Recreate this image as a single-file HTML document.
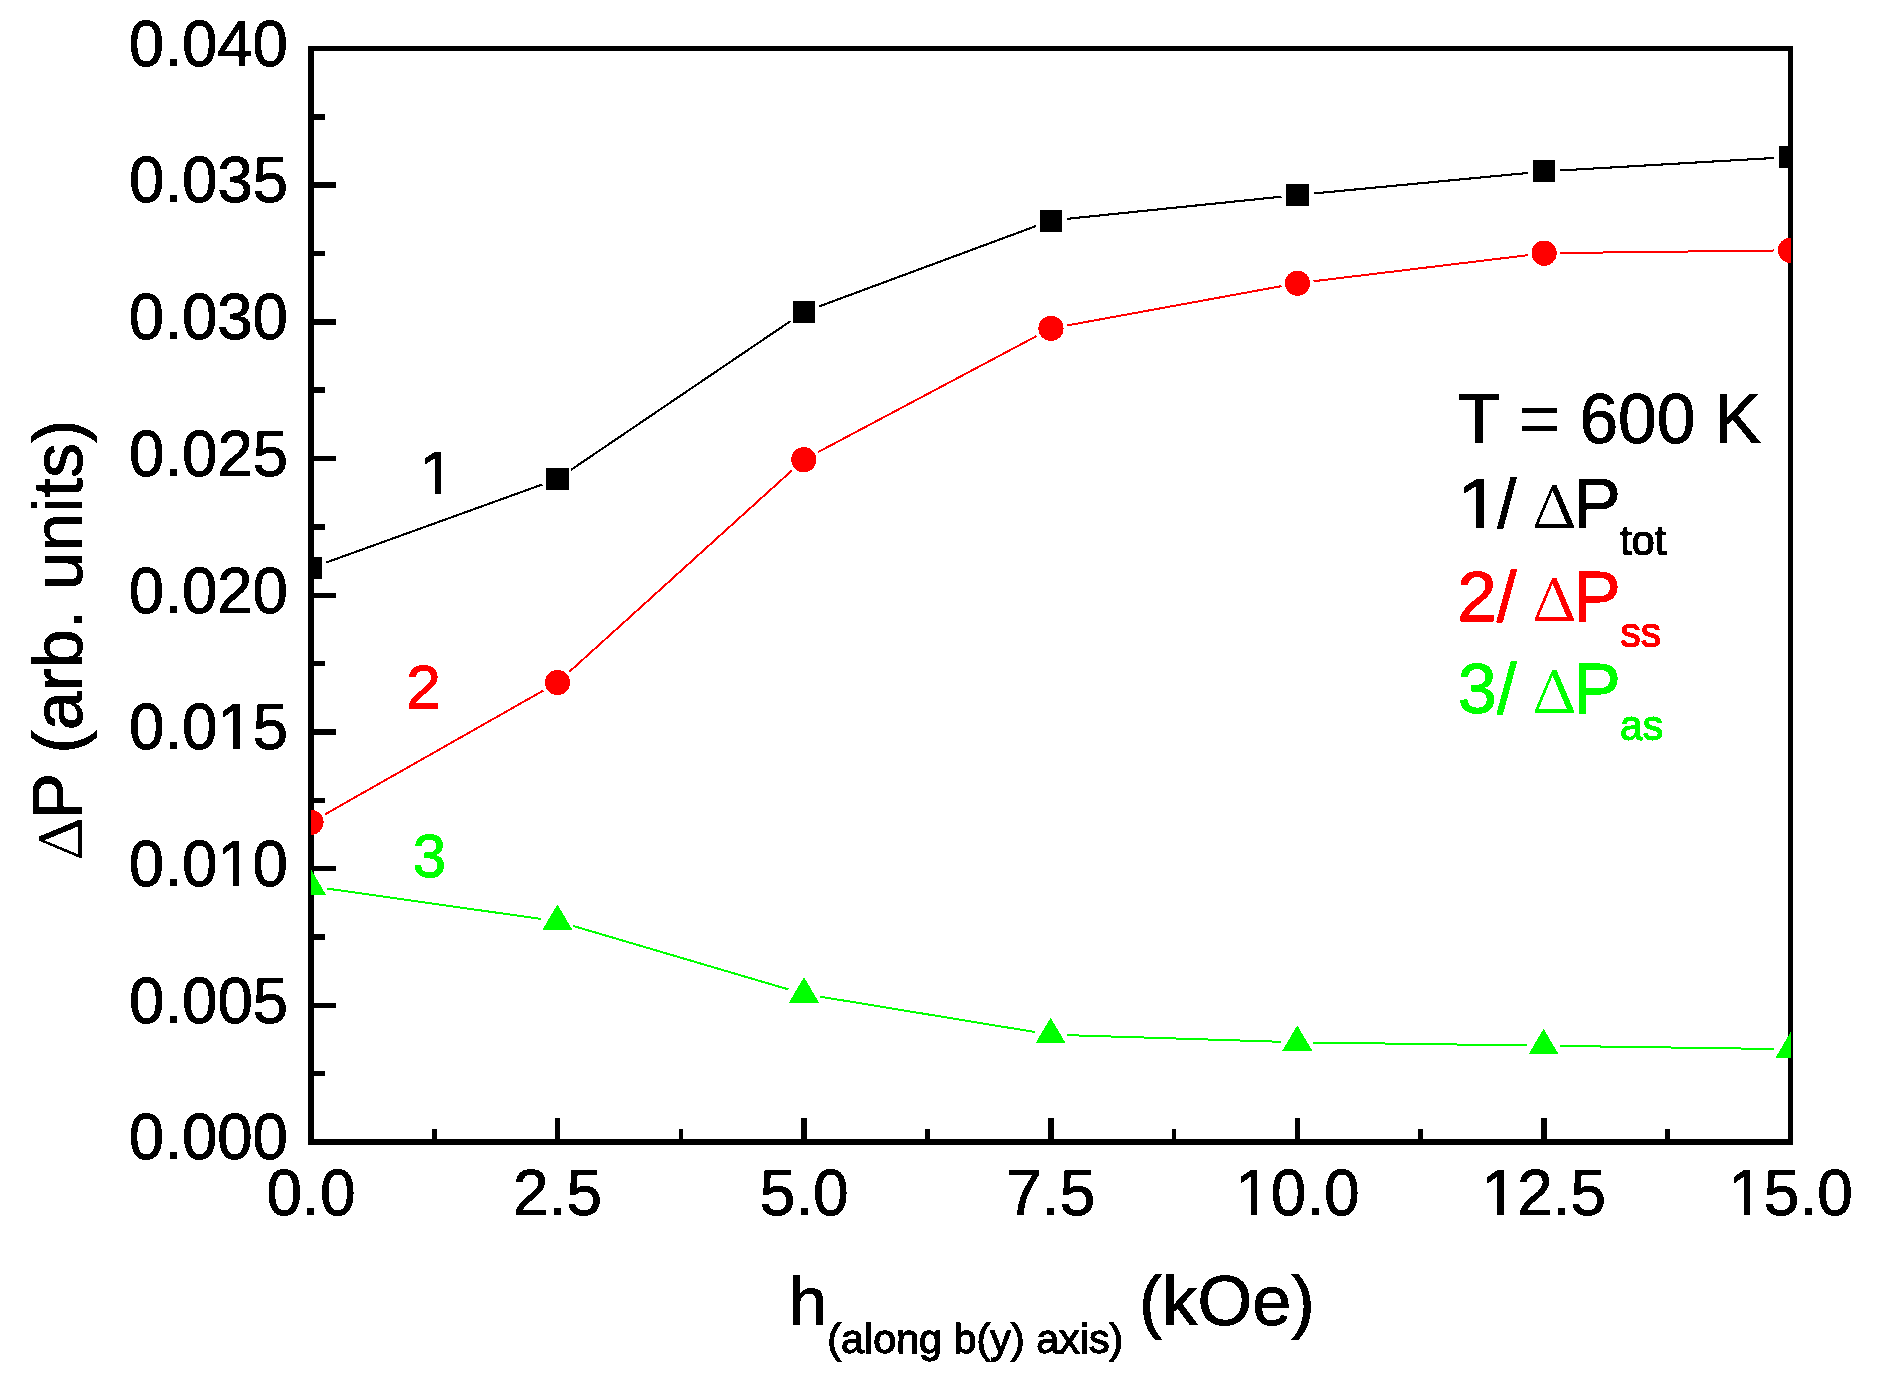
<!DOCTYPE html>
<html lang="en"><head><meta charset="utf-8"><title>ΔP vs h</title>
<style>
html,body{margin:0;padding:0;background:#fff;}
body{width:1878px;height:1391px;overflow:hidden;}
svg{display:block;}
svg text{font-family:"Liberation Sans",Arial,sans-serif;font-size:100px;font-kerning:none;white-space:pre;}
</style></head><body>
<svg width="1878" height="1391" viewBox="0 0 1878 1391" shape-rendering="crispEdges">
<defs><clipPath id="c0"><path clip-rule="evenodd" d="M-50,-150h350.2v250h-350.2zM144.01,-8.6H163.768v12H144.01zM173.203,-8.6h20v12h-20z"/></clipPath><clipPath id="c1"><path clip-rule="evenodd" d="M-50,-150h350.2v250h-350.2zM144.01,-8.6H163.469v12H144.01zM174.477,-8.6h20v12h-20z"/></clipPath><clipPath id="c2"><path clip-rule="evenodd" d="M-50,-150h294.6v250h-294.6zM5.00,-8.6H24.922v12H5.00zM34.297,-8.6h20v12h-20z"/></clipPath><clipPath id="c3"><path clip-rule="evenodd" d="M-50,-150h294.6v250h-294.6zM5.00,-8.6H24.000v12H5.00zM34.937,-8.6h20v12h-20z"/></clipPath><clipPath id="c4"><path clip-rule="evenodd" d="M-50,-150h294.6v250h-294.6zM5.00,-8.6H24.656v12H5.00zM34.031,-8.6h20v12h-20z"/></clipPath><clipPath id="c5"><path clip-rule="evenodd" d="M-50,-150h155.6v250h-155.6zM5.00,-8.6H24.709v12H5.00zM34.140,-8.6h20v12h-20z"/></clipPath><clipPath id="c6"><path clip-rule="evenodd" d="M-50,-150h155.6v250h-155.6zM5.00,-8.6H23.948v12H5.00zM34.371,-8.6h20v12h-20z"/></clipPath><filter id="th" filterUnits="userSpaceOnUse" x="0" y="0" width="1878" height="1391" color-interpolation-filters="sRGB"><feComponentTransfer><feFuncA type="discrete" tableValues="0 1"/></feComponentTransfer></filter><clipPath id="clip"><rect x="311" y="40" width="1480" height="1110"/></clipPath></defs>
<rect width="1878" height="1391" fill="#fff"/>
<rect x="311.0" y="48.5" width="1479.5" height="1093.5" fill="none" stroke="#000" stroke-width="5.5"/>
<line x1="311.0" y1="1005.31" x2="335.5" y2="1005.31" stroke="#000" stroke-width="5.5"/>
<line x1="311.0" y1="868.62" x2="335.5" y2="868.62" stroke="#000" stroke-width="5.5"/>
<line x1="311.0" y1="731.94" x2="335.5" y2="731.94" stroke="#000" stroke-width="5.5"/>
<line x1="311.0" y1="595.25" x2="335.5" y2="595.25" stroke="#000" stroke-width="5.5"/>
<line x1="311.0" y1="458.56" x2="335.5" y2="458.56" stroke="#000" stroke-width="5.5"/>
<line x1="311.0" y1="321.88" x2="335.5" y2="321.88" stroke="#000" stroke-width="5.5"/>
<line x1="311.0" y1="185.19" x2="335.5" y2="185.19" stroke="#000" stroke-width="5.5"/>
<line x1="311.0" y1="1073.66" x2="325" y2="1073.66" stroke="#000" stroke-width="5.5"/>
<line x1="311.0" y1="936.97" x2="325" y2="936.97" stroke="#000" stroke-width="5.5"/>
<line x1="311.0" y1="800.28" x2="325" y2="800.28" stroke="#000" stroke-width="5.5"/>
<line x1="311.0" y1="663.59" x2="325" y2="663.59" stroke="#000" stroke-width="5.5"/>
<line x1="311.0" y1="526.91" x2="325" y2="526.91" stroke="#000" stroke-width="5.5"/>
<line x1="311.0" y1="390.22" x2="325" y2="390.22" stroke="#000" stroke-width="5.5"/>
<line x1="311.0" y1="253.53" x2="325" y2="253.53" stroke="#000" stroke-width="5.5"/>
<line x1="311.0" y1="116.84" x2="325" y2="116.84" stroke="#000" stroke-width="5.5"/>
<line x1="557.58" y1="1142.0" x2="557.58" y2="1118" stroke="#000" stroke-width="5.5"/>
<line x1="804.17" y1="1142.0" x2="804.17" y2="1118" stroke="#000" stroke-width="5.5"/>
<line x1="1050.75" y1="1142.0" x2="1050.75" y2="1118" stroke="#000" stroke-width="5.5"/>
<line x1="1297.33" y1="1142.0" x2="1297.33" y2="1118" stroke="#000" stroke-width="5.5"/>
<line x1="1543.92" y1="1142.0" x2="1543.92" y2="1118" stroke="#000" stroke-width="5.5"/>
<line x1="434.29" y1="1142.0" x2="434.29" y2="1128.7" stroke="#000" stroke-width="4.6"/>
<line x1="680.88" y1="1142.0" x2="680.88" y2="1128.7" stroke="#000" stroke-width="4.6"/>
<line x1="927.46" y1="1142.0" x2="927.46" y2="1128.7" stroke="#000" stroke-width="4.6"/>
<line x1="1174.04" y1="1142.0" x2="1174.04" y2="1128.7" stroke="#000" stroke-width="4.6"/>
<line x1="1420.62" y1="1142.0" x2="1420.62" y2="1128.7" stroke="#000" stroke-width="4.6"/>
<line x1="1667.21" y1="1142.0" x2="1667.21" y2="1128.7" stroke="#000" stroke-width="4.6"/>
<g clip-path="url(#clip)">
<line x1="326.24" y1="562.50" x2="542.26" y2="484.50" stroke="#000" stroke-width="2.1"/>
<line x1="570.91" y1="469.91" x2="790.59" y2="321.09" stroke="#000" stroke-width="2.1"/>
<line x1="819.19" y1="306.37" x2="1035.81" y2="226.13" stroke="#000" stroke-width="2.1"/>
<line x1="1067.11" y1="218.83" x2="1281.49" y2="196.67" stroke="#000" stroke-width="2.1"/>
<line x1="1313.73" y1="193.46" x2="1528.07" y2="172.94" stroke="#000" stroke-width="2.1"/>
<line x1="1560.37" y1="170.45" x2="1774.33" y2="157.95" stroke="#000" stroke-width="2.1"/>
<line x1="325.09" y1="814.31" x2="543.41" y2="690.49" stroke="#f00" stroke-width="2.0"/>
<line x1="569.51" y1="671.63" x2="791.79" y2="470.57" stroke="#f00" stroke-width="2.0"/>
<line x1="818.11" y1="452.10" x2="1036.69" y2="336.00" stroke="#f00" stroke-width="2.0"/>
<line x1="1066.93" y1="325.48" x2="1281.57" y2="286.12" stroke="#f00" stroke-width="2.0"/>
<line x1="1313.58" y1="281.24" x2="1528.02" y2="255.16" stroke="#f00" stroke-width="2.0"/>
<line x1="1560.30" y1="253.01" x2="1774.30" y2="250.49" stroke="#f00" stroke-width="2.0"/>
<line x1="327.04" y1="888.58" x2="541.36" y2="919.02" stroke="#0f0" stroke-width="2.0"/>
<line x1="572.94" y1="925.88" x2="788.46" y2="989.42" stroke="#0f0" stroke-width="2.0"/>
<line x1="819.98" y1="996.63" x2="1034.62" y2="1031.97" stroke="#0f0" stroke-width="2.0"/>
<line x1="1066.79" y1="1035.11" x2="1281.11" y2="1041.79" stroke="#0f0" stroke-width="2.0"/>
<line x1="1313.50" y1="1042.52" x2="1527.40" y2="1045.48" stroke="#0f0" stroke-width="2.0"/>
<line x1="1559.80" y1="1045.93" x2="1774.30" y2="1048.97" stroke="#0f0" stroke-width="2.0"/>
<rect x="299.80" y="557.00" width="22.4" height="22" fill="#000"/>
<rect x="546.30" y="468.00" width="22.4" height="22" fill="#000"/>
<rect x="792.80" y="301.00" width="22.4" height="22" fill="#000"/>
<rect x="1039.80" y="209.50" width="22.4" height="22" fill="#000"/>
<rect x="1286.40" y="184.00" width="22.4" height="22" fill="#000"/>
<rect x="1533.00" y="160.40" width="22.4" height="22" fill="#000"/>
<rect x="1779.30" y="146.00" width="22.4" height="22" fill="#000"/>
<circle cx="311.00" cy="822.30" r="12.6" fill="#f00"/>
<circle cx="557.50" cy="682.50" r="12.6" fill="#f00"/>
<circle cx="803.80" cy="459.70" r="12.6" fill="#f00"/>
<circle cx="1051.00" cy="328.40" r="12.6" fill="#f00"/>
<circle cx="1297.50" cy="283.20" r="12.6" fill="#f00"/>
<circle cx="1544.10" cy="253.20" r="12.6" fill="#f00"/>
<circle cx="1790.50" cy="250.30" r="12.6" fill="#f00"/>
<polygon points="311.00,869.40 296.00,894.80 326.00,894.80" fill="#0f0"/>
<polygon points="557.40,904.40 542.40,929.80 572.40,929.80" fill="#0f0"/>
<polygon points="804.00,977.10 789.00,1002.50 819.00,1002.50" fill="#0f0"/>
<polygon points="1050.60,1017.70 1035.60,1043.10 1065.60,1043.10" fill="#0f0"/>
<polygon points="1297.30,1025.40 1282.30,1050.80 1312.30,1050.80" fill="#0f0"/>
<polygon points="1543.60,1028.80 1528.60,1054.20 1558.60,1054.20" fill="#0f0"/>
<polygon points="1790.50,1032.30 1775.50,1057.70 1805.50,1057.70" fill="#0f0"/>
</g>
<g filter="url(#th)">
<text transform="translate(128.86,1159.30) scale(0.6359,0.6520)" fill="#000" stroke="#000" stroke-width="1.534">0.000</text>
<text transform="translate(129.05,1022.61) scale(0.6359,0.6520)" fill="#000" stroke="#000" stroke-width="1.534">0.005</text>
<text transform="translate(128.86,885.92) scale(0.6359,0.6520)" fill="#000" stroke="#000" stroke-width="1.534" clip-path="url(#c0)">0.010</text>
<text transform="translate(129.05,749.24) scale(0.6359,0.6520)" fill="#000" stroke="#000" stroke-width="1.534" clip-path="url(#c1)">0.015</text>
<text transform="translate(128.86,612.55) scale(0.6359,0.6520)" fill="#000" stroke="#000" stroke-width="1.534">0.020</text>
<text transform="translate(129.05,475.86) scale(0.6359,0.6520)" fill="#000" stroke="#000" stroke-width="1.534">0.025</text>
<text transform="translate(128.86,339.18) scale(0.6359,0.6520)" fill="#000" stroke="#000" stroke-width="1.534">0.030</text>
<text transform="translate(129.05,202.49) scale(0.6359,0.6520)" fill="#000" stroke="#000" stroke-width="1.534">0.035</text>
<text transform="translate(128.86,65.80) scale(0.6359,0.6520)" fill="#000" stroke="#000" stroke-width="1.534">0.040</text>
<text transform="translate(266.52,1214.90) scale(0.6400,0.6520)" fill="#000" stroke="#000" stroke-width="1.534">0.0</text>
<text transform="translate(513.10,1214.90) scale(0.6400,0.6520)" fill="#000" stroke="#000" stroke-width="1.534">2.5</text>
<text transform="translate(759.68,1214.90) scale(0.6400,0.6520)" fill="#000" stroke="#000" stroke-width="1.534">5.0</text>
<text transform="translate(1006.27,1214.90) scale(0.6400,0.6520)" fill="#000" stroke="#000" stroke-width="1.534">7.5</text>
<text transform="translate(1235.05,1214.90) scale(0.6400,0.6520)" fill="#000" stroke="#000" stroke-width="1.534" clip-path="url(#c2)">10.0</text>
<text transform="translate(1481.64,1214.90) scale(0.6400,0.6520)" fill="#000" stroke="#000" stroke-width="1.534" clip-path="url(#c3)">12.5</text>
<text transform="translate(1728.22,1214.90) scale(0.6400,0.6520)" fill="#000" stroke="#000" stroke-width="1.534" clip-path="url(#c4)">15.0</text>
<text transform="translate(419.28,494.10) scale(0.6362,0.6050)" fill="#000" stroke="#000" stroke-width="1.653" clip-path="url(#c5)">1</text>
<text transform="translate(406.36,707.80) scale(0.6234,0.6050)" fill="#f00" stroke="#f00" stroke-width="1.653">2</text>
<text transform="translate(412.71,876.90) scale(0.6011,0.6050)" fill="#0f0" stroke="#0f0" stroke-width="1.653">3</text>
<text transform="translate(1457.84,443.20) scale(0.6949,0.7100)" fill="#000" stroke="#000" stroke-width="1.408">T = 600 K</text>
<text transform="translate(1457.62,527.70) scale(0.7675,0.7100)" fill="#000" stroke="#000" stroke-width="1.408" clip-path="url(#c6)">1</text>
<text transform="translate(1497.20,527.70) scale(0.6911,0.7100)" fill="#000" stroke="#000" stroke-width="1.408">/</text>
<text transform="translate(1532.12,528.05) scale(0.6531,0.5858)" fill="#000" stroke="#000" stroke-width="0.512" style="font-family:'Noto Serif CJK SC','Liberation Serif',serif">Δ</text>
<text transform="translate(1573.57,527.70) scale(0.7102,0.7100)" fill="#000" stroke="#000" stroke-width="1.408">P</text>
<text transform="translate(1619.89,554.67) scale(0.4172,0.4200)" fill="#000" stroke="#000" stroke-width="2.976">tot</text>
<text transform="translate(1457.13,620.50) scale(0.7107,0.7100)" fill="#f00" stroke="#f00" stroke-width="1.408">2/</text>
<text transform="translate(1532.12,620.85) scale(0.6531,0.5858)" fill="#f00" stroke="#f00" stroke-width="0.512" style="font-family:'Noto Serif CJK SC','Liberation Serif',serif">Δ</text>
<text transform="translate(1573.57,620.50) scale(0.7102,0.7100)" fill="#f00" stroke="#f00" stroke-width="1.408">P</text>
<text transform="translate(1620.50,646.67) scale(0.4054,0.4200)" fill="#f00" stroke="#f00" stroke-width="2.976">ss</text>
<text transform="translate(1457.83,712.50) scale(0.7024,0.7100)" fill="#0f0" stroke="#0f0" stroke-width="1.408">3/</text>
<text transform="translate(1532.12,712.85) scale(0.6531,0.5858)" fill="#0f0" stroke="#0f0" stroke-width="0.512" style="font-family:'Noto Serif CJK SC','Liberation Serif',serif">Δ</text>
<text transform="translate(1573.57,712.50) scale(0.7102,0.7100)" fill="#0f0" stroke="#0f0" stroke-width="1.408">P</text>
<text transform="translate(1619.88,739.77) scale(0.4107,0.4200)" fill="#0f0" stroke="#0f0" stroke-width="2.976">as</text>
<text transform="translate(788.82,1325.30) scale(0.6898,0.6900)" fill="#000" stroke="#000" stroke-width="1.449">h</text>
<text transform="translate(827.26,1353.17) scale(0.4130,0.4120)" fill="#000" stroke="#000" stroke-width="3.034">(along b(y) axis)</text>
<text transform="translate(1138.94,1325.30) scale(0.7029,0.6950)" fill="#000" stroke="#000" stroke-width="1.439">(kOe)</text>
<text transform="translate(81.95,860.65) rotate(-90) scale(0.6463,0.5872)" fill="#000" stroke="#000" stroke-width="0.511" style="font-family:'Noto Serif CJK SC','Liberation Serif',serif">Δ</text>
<text transform="translate(81.60,819.53) rotate(-90) scale(0.6986,0.7000)" fill="#000" stroke="#000" stroke-width="1.429">P (arb. units)</text>
</g>
</svg>
</body></html>
